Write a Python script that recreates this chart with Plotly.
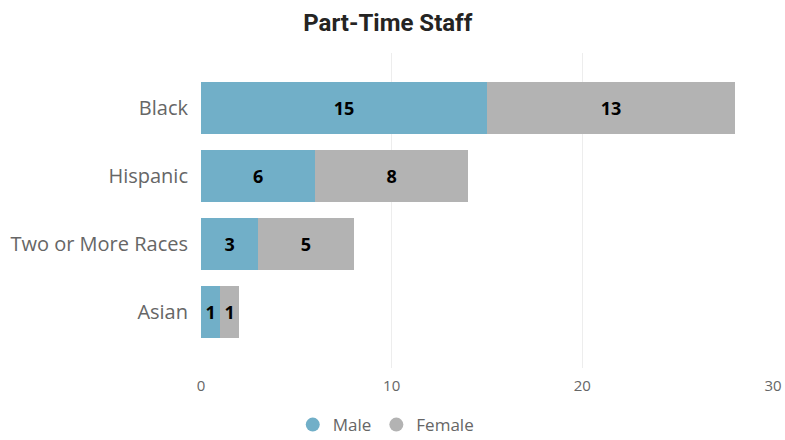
import plotly.graph_objects as go

categories = ["Asian", "Two or More Races", "Hispanic", "Black"]
male = [1, 3, 6, 15]
female = [1, 5, 8, 13]
x_ticks = [0, 10, 20, 30]

male_color = "#71AFC8"
female_color = "#B3B3B3"

fig = go.Figure()
fig.add_trace(go.Bar(
    y=categories, x=male, orientation="h", name="Male",
    marker=dict(color=male_color, line=dict(width=0)),
    text=[f"<b>{v}</b>" for v in male], textposition="inside",
    insidetextanchor="middle",
    textfont=dict(color="black", size=18, family="Open Sans"),
    showlegend=False,
))
fig.add_trace(go.Bar(
    y=categories, x=female, orientation="h", name="Female",
    marker=dict(color=female_color, line=dict(width=0)),
    text=[f"<b>{v}</b>" for v in female], textposition="inside",
    insidetextanchor="middle",
    textfont=dict(color="black", size=18, family="Open Sans"),
    showlegend=False,
))
for name, col in [("Male", male_color), ("Female", female_color)]:
    fig.add_trace(go.Scatter(
        x=[None], y=[None], mode="markers", name=name,
        marker=dict(symbol="circle", size=14, color=col),
        showlegend=True,
    ))

fig.update_layout(
    barmode="stack",
    bargap=0.235,
    width=785, height=440,
    margin=dict(l=201, r=12, t=53, b=72),
    paper_bgcolor="white", plot_bgcolor="white",
    title=dict(text="<b>Part-Time Staff</b>", x=0.494, xanchor="center",
               y=0.948, yanchor="middle",
               font=dict(family="Roboto", size=24, color="#252423")),
    uniformtext=dict(mode="show", minsize=18),
    legend=dict(orientation="h", traceorder="normal",
                x=0.323, xanchor="center", xref="paper",
                y=0.034, yanchor="middle", yref="container",
                font=dict(family="Open Sans", size=17, color="#666666"),
                itemwidth=30, tracegroupgap=0),
    font=dict(family="Open Sans"),
)
fig.update_xaxes(
    range=[0, 30], tickvals=x_ticks, showgrid=True, gridcolor="#EDEDED",
    gridwidth=1, zeroline=False, showline=False, automargin=False,
    tickfont=dict(family="Open Sans", size=15, color="#666666"),
    ticks="", ticklabelstandoff=7,
)
fig.update_yaxes(
    range=[-0.82, 3.81], showgrid=False, zeroline=False, showline=False,
    automargin=False,
    tickfont=dict(family="Open Sans", size=20, color="#666666"),
    ticks="", ticklabelstandoff=12,
)

fig.write_html("out.html", config={"displayModeBar": False},
               post_script="document.body.style.margin='0';document.body.style.overflow='hidden';")
